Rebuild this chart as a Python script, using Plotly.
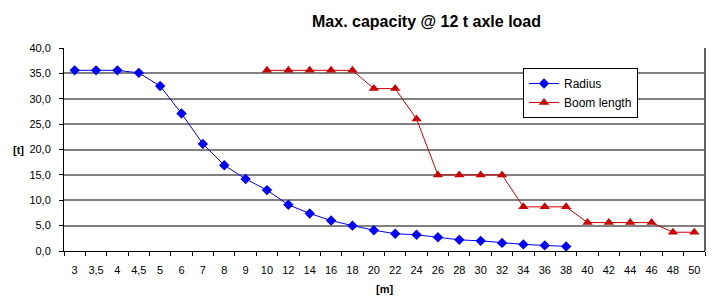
import plotly.graph_objects as go

categories = ["3", "3,5", "4", "4,5", "5", "6", "7", "8", "9", "10", "12", "14", "16", "18",
              "20", "22", "24", "26", "28", "30", "32", "34", "36", "38", "40", "42", "44",
              "46", "48", "50"]
radius_x = ["3", "3,5", "4", "4,5", "5", "6", "7", "8", "9", "10", "12", "14", "16", "18",
            "20", "22", "24", "26", "28", "30", "32", "34", "36", "38"]
radius_y = [35.6, 35.6, 35.6, 35.1, 32.5, 27.1, 21.1, 16.9, 14.2, 12.0, 9.1, 7.4, 6.0, 5.0,
            4.1, 3.4, 3.2, 2.7, 2.2, 2.0, 1.6, 1.3, 1.1, 0.9]
boom_x = ["10", "12", "14", "16", "18", "20", "22", "24", "26", "28", "30", "32", "34", "36",
          "38", "40", "42", "44", "46", "48", "50"]
boom_y = [35.6, 35.6, 35.6, 35.6, 35.6, 32.0, 32.0, 26.0, 15.0, 15.0, 15.0, 15.0, 8.7, 8.7,
          8.7, 5.6, 5.6, 5.6, 5.6, 3.7, 3.7]
y_ticks = [0, 5, 10, 15, 20, 25, 30, 35, 40]

FONT = "Liberation Sans, Arial, sans-serif"

fig = go.Figure()
fig.add_trace(go.Scatter(
    x=radius_x, y=radius_y, name="Radius", mode="lines+markers",
    line=dict(color="#0000FF", width=1),
    marker=dict(symbol="diamond", size=8, color="#0000FF"),
))
fig.add_trace(go.Scatter(
    x=boom_x, y=boom_y, name="Boom length", mode="lines+markers",
    line=dict(color="#CC0000", width=1),
    marker=dict(symbol="triangle-up", size=9, color="#CC0000"),
))

fig.update_layout(
    width=712, height=296,
    margin=dict(l=64, r=7, t=48, b=45),
    paper_bgcolor="white", plot_bgcolor="white",
    separators=",.",
    font=dict(family=FONT, size=11, color="black"),
    showlegend=True,
    legend=dict(
        x=(523 - 64) / 641, y=(251 - 68) / 203, xanchor="left", yanchor="top",
        bordercolor="black", borderwidth=1, bgcolor="white",
        font=dict(family=FONT, size=12, color="black"),
        tracegroupgap=0, itemwidth=30,
    ),
    annotations=[
        dict(text="<b>Max. capacity @ 12 t axle load</b>", xref="paper", yref="paper",
             x=(426 - 64) / 641, y=1, yshift=27, showarrow=False,
             font=dict(family=FONT, size=16, color="black"), xanchor="center", yanchor="middle"),
        dict(text="<b>[t]</b>", xref="paper", yref="paper", x=0, xshift=-46, y=0.5,
             showarrow=False, font=dict(family=FONT, size=11, color="black"),
             xanchor="center", yanchor="middle"),
        dict(text="<b>[m]</b>", xref="paper", yref="paper", x=0.5, y=0, yshift=-38,
             showarrow=False, font=dict(family=FONT, size=11, color="black"),
             xanchor="center", yanchor="middle"),
    ],
)

fig.update_xaxes(
    type="category", categoryorder="array", categoryarray=categories,
    range=[-0.5, len(categories) - 0.5],
    showline=True, linecolor="black", linewidth=1,
    ticks="outside", tickson="boundaries", ticklen=4, tickcolor="black",
    showgrid=False, zeroline=False, tickangle=0, automargin=False,
    tickfont=dict(family=FONT, size=11, color="black"),
    ticklabelstandoff=9,
)
fig.update_yaxes(
    range=[0, 40], tickvals=y_ticks, tickformat=".1f",
    showline=True, linecolor="black", linewidth=1,
    ticks="outside", ticklen=4, tickcolor="black",
    showgrid=True, gridcolor="#808080", gridwidth=2,
    zeroline=False, automargin=False,
    tickfont=dict(family=FONT, size=11, color="black"),
    ticklabelstandoff=6,
    mirror=False,
)
# right border of plot area
fig.add_shape(type="line", xref="paper", yref="paper", x0=1, x1=1, y0=0, y1=1,
              line=dict(color="#606060", width=2))

fig.write_html("out.html",
               config={"displayModeBar": False},
               post_script="document.body.style.margin='0';document.body.style.overflow='hidden';")
